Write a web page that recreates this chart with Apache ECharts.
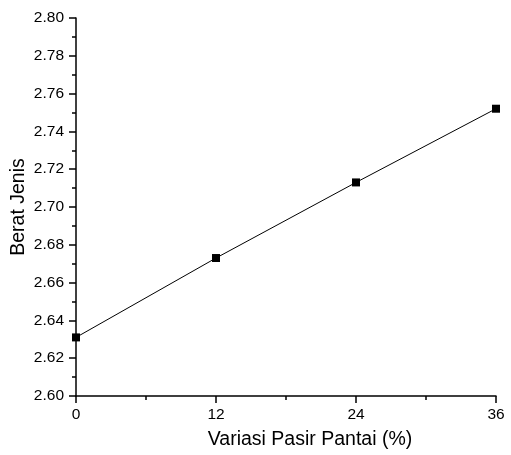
<!DOCTYPE html>
<html>
<head>
<meta charset="utf-8">
<script src="https://cdn.jsdelivr.net/npm/echarts@6/dist/echarts.min.js"></script>
<style>
  html, body { margin: 0; padding: 0; background: #fff; }
  #chart { width: 511px; height: 455px; }
</style>
</head>
<body>
<div id="chart"></div>
<script>
// data
const variasi = [0, 12, 24, 36];
const beratJenis = [2.631, 2.673, 2.713, 2.752];

const chart = echarts.init(document.getElementById("chart"));
const font = "Liberation Sans, Arial, sans-serif";

chart.setOption({
  animation: false,
  grid: { left: 76, right: 15, top: 18, bottom: 59, outerBoundsMode: "none", containLabel: false },
  xAxis: {
    type: "value",
    min: 0,
    max: 36,
    interval: 12,
    name: "Variasi Pasir Pantai (%)",
    nameLocation: "middle",
    nameGap: 34,
    nameMoveOverlap: false,
    // title sits a bit right of the axis centre in the original
    nameTextStyle: { fontFamily: font, fontSize: 19.5, color: "#000", padding: [0, 0, 0, 48] },
    axisLine: { lineStyle: { color: "#000", width: 1.5 } },
    axisTick: { inside: false, length: 7, lineStyle: { color: "#000", width: 1.5 } },
    minorTick: { show: true, splitNumber: 2, length: 4, lineStyle: { color: "#000", width: 1.5 } },
    axisLabel: { fontFamily: font, fontSize: 15.5, color: "#000", margin: 11 },
    splitLine: { show: false },
  },
  yAxis: {
    type: "value",
    min: 2.6,
    max: 2.8,
    interval: 0.02,
    name: "Berat Jenis",
    nameLocation: "middle",
    nameGap: 47,
    nameMoveOverlap: false,
    nameTextStyle: { fontFamily: font, fontSize: 19.5, color: "#000" },
    axisLine: { show: true, lineStyle: { color: "#000", width: 1.5 } },
    axisTick: { show: true, inside: false, length: 7, lineStyle: { color: "#000", width: 1.5 } },
    minorTick: { show: true, splitNumber: 2, length: 4, lineStyle: { color: "#000", width: 1.5 } },
    axisLabel: {
      fontFamily: font, fontSize: 15.5, color: "#000", margin: 12,
      formatter: (v) => v.toFixed(2),
    },
    splitLine: { show: false },
  },
  series: [
    {
      type: "line",
      data: variasi.map((x, i) => [x, beratJenis[i]]),
      symbol: "rect",
      symbolSize: 8,
      lineStyle: { color: "#000", width: 1 },
      itemStyle: { color: "#000" },
      clip: false,
    },
  ],
});
</script>
</body>
</html>
